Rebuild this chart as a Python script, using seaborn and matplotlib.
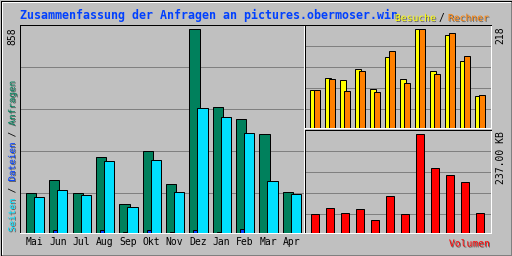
import numpy as np
import matplotlib
matplotlib.use("Agg")
import matplotlib.pyplot as plt
import matplotlib.patheffects as pe
from matplotlib.lines import Line2D
import seaborn as sns

# ---------------- data ----------------
months = ["Mai", "Jun", "Jul", "Aug", "Sep", "Okt", "Nov", "Dez", "Jan", "Feb", "Mar", "Apr"]
anfragen = [170, 225, 170, 322, 124, 347, 208, 858, 529, 482, 415, 174]
dateien = [0, 12, 0, 12, 3, 12, 3, 12, 3, 17, 0, 0]
seiten = [153, 183, 159, 305, 111, 309, 174, 525, 487, 423, 221, 166]
besuche = [85, 111, 107, 131, 87, 156, 109, 218, 125, 205, 149, 71]
rechner = [85, 109, 82, 127, 80, 169, 100, 218, 120, 209, 160, 73]
volumen_kb = [46, 60, 48, 58, 31, 89, 46, 237, 157, 140, 123, 48]

title = "Zusammenfassung der Anfragen an pictures.obermoser.win"
max_main_label = "858"
max_visits_label = "218"
max_kb_label = "237.00 KB"

# ---------------- style ----------------
W, H = 512, 256
BG = "#c0c0c0"
GRID = "#808080"
SHADOW = "#606060"
LW = 0.72
MONO = "DejaVu Sans Mono"
C_HIT, C_FILE, C_PAGE = "#00805c", "#0040ff", "#00e0ff"
C_VISIT, C_SITE, C_KB = "#ffff00", "#ff8000", "#ff0000"

fig = plt.figure(figsize=(W / 100, H / 100), dpi=100, facecolor=BG)


def fx(x):
    return x / W


def fy(y):
    return 1 - y / H


def ax_at(x0, y0, x1, y1):
    return fig.add_axes([x0 / W, 1 - y1 / H, (x1 - x0) / W, (y1 - y0) / H])


def frame(ax, ymax, fracs):
    ax.set_facecolor(BG)
    for s in ["top", "left"]:
        ax.spines[s].set_color("black")
    for s in ["bottom", "right"]:
        ax.spines[s].set_color("white")
    for s in ax.spines.values():
        s.set_linewidth(LW)
    ax.set_ylim(0, ymax)
    ax.set_yticks([])
    ax.set_xlabel("")
    ax.set_ylabel("")
    ax.tick_params(length=0)
    for f in fracs:
        ax.axhline(f * ymax, color=GRID, lw=LW, zorder=0.5)


idx = np.arange(len(months))

# ---------------- main panel ----------------
axm = ax_at(20, 25, 304, 233)
unit_m = 23.36
bw_m = 10.3 / unit_m
for vals, off, col in [(anfragen, 0, C_HIT), (dateien, 4, C_FILE), (seiten, 8, C_PAGE)]:
    sns.barplot(x=idx + off / unit_m, y=vals, native_scale=True, width=bw_m,
                color=col, saturation=1, edgecolor="black", linewidth=LW,
                errorbar=None, ax=axm)
frame(axm, 876, [0.191, 0.393, 0.595, 0.797])
x0m = -10.95 / unit_m
axm.set_xlim(x0m, x0m + 284 / unit_m)
axm.set_xticks(idx + 3.5 / unit_m)
axm.set_xticklabels(months, fontsize=7, family=MONO, color="black")
axm.tick_params(axis="x", pad=3)

# ---------------- visits / sites panel ----------------
axv = ax_at(305, 25, 491, 128)
unit_r = 15.0
bw_v = 6.3 / unit_r
for vals, off, col in [(besuche, 0, C_VISIT), (rechner, 4, C_SITE)]:
    sns.barplot(x=idx + off / unit_r, y=vals, native_scale=True, width=bw_v,
                color=col, saturation=1, edgecolor="black", linewidth=LW,
                errorbar=None, ax=axv)
frame(axv, 227.5, [0.182, 0.385, 0.589, 0.796])
x0r = -8.0 / unit_r
axv.set_xlim(x0r, x0r + 186 / unit_r)
axv.set_xticks([])

# ---------------- volume panel ----------------
axk = ax_at(305, 130, 491, 233)
sns.barplot(x=idx + 2 / unit_r, y=volumen_kb, native_scale=True, width=8.4 / unit_r,
            color=C_KB, saturation=1, edgecolor="black", linewidth=LW,
            errorbar=None, ax=axk)
frame(axk, 247.3, [0.182, 0.385, 0.589, 0.796])
axk.set_xlim(x0r, x0r + 186 / unit_r)
axk.set_xticks([])

# ---------------- texts ----------------
shadow = [pe.withSimplePatchShadow(offset=(0.72, -0.72), shadow_rgbFace=SHADOW, alpha=1.0)]

fig.text(fx(20), fy(19.5), title, color="#0040ff", fontsize=8.4, family=MONO,
         weight="bold", ha="left", va="baseline", zorder=5)

fs = 7.0
fig.text(fx(436), fy(21), "Besuche", color=C_VISIT, fontsize=fs, family=MONO,
         ha="right", va="baseline", path_effects=shadow, zorder=6)
fig.text(fx(441.5), fy(21), "/", color="black", fontsize=fs, family=MONO,
         ha="center", va="baseline", zorder=6)
fig.text(fx(489), fy(21), "Rechner", color=C_SITE, fontsize=fs, family=MONO,
         ha="right", va="baseline", path_effects=shadow, zorder=6)

fig.text(fx(490), fy(246.5), "Volumen", color=C_KB, fontsize=fs, family=MONO,
         ha="right", va="baseline", path_effects=shadow, zorder=6)

# rotated numbers
fig.text(fx(12.5), fy(27.5), max_main_label, rotation=90, color="black", fontsize=fs,
         family=MONO, ha="center", va="top")
fig.text(fx(500.5), fy(26.5), max_visits_label, rotation=90, color="black", fontsize=fs,
         family=MONO, ha="center", va="top")
fig.text(fx(500.5), fy(131.5), max_kb_label, rotation=90, color="black", fontsize=fs,
         family=MONO, ha="center", va="top")

# multi-coloured vertical legend (bottom to top)
segs = [("Seiten", C_PAGE, True), (" / ", "black", False), ("Dateien", C_FILE, True),
        (" / ", "black", False), ("Anfragen", C_HIT, True)]
fs_l = 6.7
adv = 0.6021 * fs_l * 100 / 72  # px per character
ypos = 232.0
for txt, col, sh in segs:
    fig.text(fx(12.5), fy(ypos), txt, rotation=90, rotation_mode="anchor",
             color=col, fontsize=fs_l, family=MONO, ha="left", va="center",
             path_effects=shadow if sh else None)
    ypos -= adv * len(txt)

# ---------------- outer 3D border ----------------
def pline(x0, y0, x1, y1, c):
    fig.add_artist(Line2D([fx(x0), fx(x1)], [fy(y0), fy(y1)], color=c, lw=LW,
                          transform=fig.transFigure, zorder=10))

pline(0.5, 0.5, 511.5, 0.5, "black")
pline(0.5, 0.5, 0.5, 255.5, "black")
pline(511.5, 0.5, 511.5, 255.5, "black")
pline(0.5, 255.5, 511.5, 255.5, "black")
pline(1.5, 1.5, 510.5, 1.5, "white")
pline(1.5, 1.5, 1.5, 254.5, "white")
pline(510.5, 1.5, 510.5, 254.5, GRID)
pline(1.5, 254.5, 510.5, 254.5, GRID)

fig.savefig("out.png", dpi=100, facecolor=BG)
